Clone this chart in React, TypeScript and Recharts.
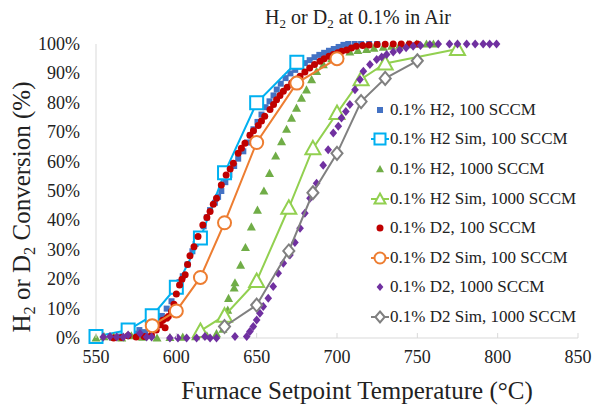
import React from "react";
import { ScatterChart, Scatter, XAxis, YAxis } from "recharts";

type Pair = [number, number];

// temperature (°C), conversion (%)
const h2Exp100: Pair[] = [
  [565, 0.5], [570, 1], [574, 1.5], [577, 2.7], [580.5, 2], [583, 3.5], [585.5, 4.4], [588.6, 5],
  [591, 7.5], [594, 10], [597, 12.5], [600, 17], [602, 19], [604, 21], [607, 25], [610, 29.5],
  [612, 32], [614.7, 34.5], [617, 38], [619, 41], [621, 43.5], [624, 46], [626, 48], [628, 50],
  [630.5, 53], [633, 55.5], [636, 58.5], [638.5, 61], [641.7, 63.5], [644, 66.5], [646, 69],
  [648, 71], [650.5, 73.5], [653, 76], [655.5, 78.5], [658, 80.5], [660.5, 82.5], [662.5, 84.5],
  [665, 86.5], [668, 88.4], [671, 90], [674, 91.2], [677, 92.3], [680, 93.5], [683, 94.5],
  [686, 95.5], [689, 96.3], [692, 97], [695, 97.7], [698, 98.3], [701, 99], [704, 99.7],
  [707, 100], [711, 100], [715, 100], [720, 100], [725, 100],
];

const h2Sim100: Pair[] = [
  [550, 0.5], [570, 2.7], [585, 7.6], [600, 17.3], [615, 34], [630, 56.2], [650, 80],
  [675, 93.8],
];

const h2Exp1000: Pair[] = [
  [550, 0], [555, 0.5], [561, 0.3], [566, 0], [572, 0.8], [579, 0.3], [588, 0], [596, 0.2],
  [604, 0.3], [612, 0.5], [619, 0.8], [625, 1.5], [629, 3], [632, 9.5], [632.5, 13.5], [636, 17],
  [636.5, 18.8], [640, 24.8], [643, 30.8], [646.7, 37.8], [650.5, 43.5], [654.5, 50], [658, 56],
  [661.8, 61.9], [665.5, 66.8], [668.6, 71], [671.7, 74.8], [674.8, 78.2], [677.9, 81.6],
  [681, 84.4], [684.2, 87.9], [687.3, 90.7], [691.5, 93], [696.7, 95], [701.8, 96.2], [708, 97.3],
  [713, 97.8], [718.4, 98.2], [723, 98.6], [728.8, 98.9], [734, 99.3], [739, 99.6], [744, 99.8],
  [749.5, 100], [755.7, 100], [760, 100],
];

const h2Sim1000: Pair[] = [
  [615, 2.4], [630, 7.6], [650, 19.4], [670, 44.3], [685, 64.5], [700, 76.5], [715, 88],
  [730, 93.4], [775, 98.3],
];

const d2Exp100: Pair[] = [
  [561, 0], [566, 0.2], [570, 0.8], [575, 0.3], [580, 0.5], [584.5, 1], [587.5, 2.7], [590, 4.5],
  [591.5, 6], [593, 3.5], [594, 6.7], [595, 7.3], [597, 9], [598.5, 11.5], [600, 15], [602, 18],
  [603.5, 20], [605.5, 21.5], [607, 25], [608.5, 28], [611, 31], [613.5, 34.5], [616.5, 38.4],
  [619, 41], [621, 43], [623, 45.5], [625, 47.5], [628, 52], [631, 55.4], [633.5, 57.5],
  [635.5, 59.4], [638.5, 62.8], [640.5, 64.5], [642.7, 66.2], [645.8, 69], [648, 70.5],
  [651, 72.3], [653, 73.8], [655, 75.4], [658.3, 77.7], [660.5, 79.4], [662.4, 81], [664.5, 82.5],
  [666.6, 83.9], [669, 85.3], [671.8, 86.7], [674.5, 88], [677, 89], [680, 90.5], [683, 91.8],
  [686, 93], [689.4, 94.1], [692, 95], [695, 95.8], [697.7, 96.4], [700.5, 97], [703, 97.5],
  [706, 98], [709, 98.6], [712, 99.2], [716, 99.5], [720, 99.7], [725, 99.8], [730, 99.9],
  [735, 100], [740, 100], [745, 100], [750, 100],
];

const d2Sim100: Pair[] = [
  [585, 4.2], [600, 9.2], [615, 20.6], [630, 39.2], [650, 66.5], [675, 86.7], [700, 95],
];

const d2Exp1000: Pair[] = [
  [554.5, 0.3], [558.7, 0.5], [562.9, 0.3], [567, 0.3], [570, 1], [577.4, 1.5], [581.5, 0.3],
  [584.6, 0.3], [596, 0], [601, 0], [606.4, 0], [612.6, 0], [617.8, 0.5], [621, 0], [625, 0],
  [636.5, 0.5], [643.8, 0.5], [645.8, 2.2], [647.9, 3.9], [650, 6.1], [652, 8.4], [654.1, 10.7],
  [657.2, 13.5], [660.3, 17.5], [663.4, 22], [666.6, 25.4], [670.7, 28.2], [673.8, 32.5],
  [677, 37.3], [680, 42.4], [683.2, 47.5], [687.3, 52.6], [691.4, 58.8], [694.5, 64],
  [697.7, 69.7], [700.8, 72], [702.8, 74.8], [705.5, 77], [708, 79.4], [711.2, 84.4],
  [714.3, 87.9], [716.4, 90.7], [720.5, 93], [724.7, 94.7], [727.8, 95.6], [730.9, 96.4],
  [735, 97.3], [739, 98], [743, 98.7], [747.4, 99.2], [752, 99.5], [757.8, 99.8], [763, 100],
  [770, 100], [775, 100], [780.7, 100], [786, 100], [791, 100], [795, 100], [799.3, 100],
];

const d2Sim1000: Pair[] = [
  [630, 3.9], [650, 11.2], [670, 29.6], [685, 49.4], [700, 62.8], [715, 80.4], [730, 88.3],
  [750, 94.3],
];

const xTicks = [550, 600, 650, 700, 750, 800, 850];
const yTicks = [0, 10, 20, 30, 40, 50, 60, 70, 80, 90, 100];

const FONT = "'Liberation Serif', 'Times New Roman', Times, serif";
const INK = "#222";
const BORDER = "#D9D9D9";

const toPts = (arr: Pair[]) => arr.map(([x, y]) => ({ x, y }));

type Mark = "square" | "circle" | "triangle" | "diamond";

function markPath(kind: Mark, cx: number, cy: number, s: number) {
  const h = s / 2;
  if (kind === "square") return `M${cx - h},${cy - h}h${s}v${s}h${-s}Z`;
  if (kind === "triangle") return `M${cx},${cy - h}L${cx + h},${cy + h * 0.8}L${cx - h},${cy + h * 0.8}Z`;
  if (kind === "diamond") return `M${cx},${cy - h}L${cx + h * 0.85},${cy}L${cx},${cy + h}L${cx - h * 0.85},${cy}Z`;
  return `M${cx - h},${cy}a${h},${h} 0 1,0 ${s},0a${h},${h} 0 1,0 ${-s},0`;
}

function Marker({ kind, cx, cy, size, color, hollow }: { kind: Mark; cx: number; cy: number; size: number; color: string; hollow?: boolean }) {
  return (
    <path
      d={markPath(kind, cx, cy, size)}
      fill={hollow ? "#fff" : color}
      stroke={hollow ? color : "none"}
      strokeWidth={hollow ? 2 : 0}
    />
  );
}

const shapeOf = (kind: Mark, size: number, color: string, hollow?: boolean) => (props: any) => (
  <Marker kind={kind} cx={props.cx} cy={props.cy} size={size} color={color} hollow={hollow} />
);

type SeriesDef = { name: string; data: Pair[]; kind: Mark; size: number; color: string; sim: boolean };

const series: SeriesDef[] = [
  { name: "0.1% H2, 100 SCCM", data: h2Exp100, kind: "square", size: 6, color: "#4472C4", sim: false },
  { name: "0.1% H2 Sim, 100 SCCM", data: h2Sim100, kind: "square", size: 13, color: "#00B0F0", sim: true },
  { name: "0.1% H2, 1000 SCCM", data: h2Exp1000, kind: "triangle", size: 9, color: "#70AD47", sim: false },
  { name: "0.1% H2 Sim, 1000 SCCM", data: h2Sim1000, kind: "triangle", size: 15, color: "#92D050", sim: true },
  { name: "0.1% D2, 100 SCCM", data: d2Exp100, kind: "circle", size: 7, color: "#C00000", sim: false },
  { name: "0.1% D2 Sim, 100 SCCM", data: d2Sim100, kind: "circle", size: 13, color: "#ED7D31", sim: true },
  { name: "0.1% D2, 1000 SCCM", data: d2Exp1000, kind: "diamond", size: 9, color: "#7030A0", sim: false },
  { name: "0.1% D2 Sim, 1000 SCCM", data: d2Sim1000, kind: "diamond", size: 13, color: "#808080", sim: true },
];

const XTick = (props: any) => {
  const { x, y, payload } = props;
  return (
    <g>
      <line x1={x} x2={x} y1={y} y2={y - 5} stroke={BORDER} />
      <text x={x} y={y + 25} textAnchor="middle" style={{ fontSize: 18, fontFamily: FONT, fill: INK }}>
        {payload.value}
      </text>
    </g>
  );
};

const YTick = (props: any) => {
  const { x, y, payload } = props;
  return (
    <text x={x} y={y + 6} textAnchor="end" style={{ fontSize: 18, fontFamily: FONT, fill: INK }}>
      {`${payload.value}%`}
    </text>
  );
};

const Sub = ({ children }: { children: React.ReactNode }) => (
  <span style={{ fontSize: "0.65em", position: "relative", top: "0.3em" }}>{children}</span>
);

export default function App() {
  return (
    <div style={{ position: "absolute", left: 0, top: 0, width: 593, height: 410, background: "#fff", fontFamily: FONT, color: INK }}>
      <ScatterChart width={593} height={410} margin={{ top: 44, right: 15, bottom: 42, left: 0 }}>
        <XAxis
          type="number"
          dataKey="x"
          domain={[550, 850]}
          ticks={xTicks}
          interval={0}
          height={30}
          tickSize={0}
          tickMargin={0}
          tickLine={false}
          axisLine={{ stroke: BORDER }}
          tick={<XTick />}
        />
        <XAxis xAxisId="top" orientation="top" type="number" domain={[550, 850]} height={0} tick={false} tickLine={false} axisLine={{ stroke: BORDER }} />
        <YAxis
          type="number"
          dataKey="y"
          domain={[0, 100]}
          ticks={yTicks}
          interval={0}
          width={96}
          tickSize={0}
          tickMargin={16}
          tickLine={false}
          axisLine={{ stroke: BORDER }}
          tick={<YTick />}
        />
        <YAxis yAxisId="right" orientation="right" type="number" domain={[0, 100]} width={0} tick={false} tickLine={false} axisLine={{ stroke: BORDER }} />
        {series.map((s) => (
          <Scatter
            key={s.name}
            name={s.name}
            data={toPts(s.data)}
            shape={shapeOf(s.kind, s.size, s.color, s.sim)}
            line={s.sim ? { stroke: s.color, strokeWidth: 2 } : false}
            lineType="joint"
            isAnimationActive={false}
          />
        ))}
      </ScatterChart>

      <div style={{ position: "absolute", left: 208, top: 5, width: 300, lineHeight: "24px", fontSize: 20, textAlign: "center" }}>
        H<Sub>2</Sub> or D<Sub>2</Sub> at 0.1% in Air
      </div>
      <div style={{ position: "absolute", left: 157, top: 377, width: 400, lineHeight: "28px", fontSize: 25, textAlign: "center" }}>
        Furnace Setpoint Temperature (°C)
      </div>
      <div
        style={{
          position: "absolute",
          left: 22 - 150,
          top: 207 - 15,
          width: 300,
          height: 30,
          lineHeight: "30px",
          fontSize: 25,
          textAlign: "center",
          transform: "rotate(-90deg)",
          whiteSpace: "nowrap",
        }}
      >
        H<Sub>2</Sub> or D<Sub>2</Sub> Conversion (%)
      </div>

      <div style={{ position: "absolute", left: 371, top: 95, fontSize: 17 }}>
        {series.map((s) => (
          <div key={s.name} style={{ display: "flex", alignItems: "center", height: 29.6, whiteSpace: "nowrap" }}>
            <svg width={18} height={18} style={{ marginRight: 1 }}>
              {s.sim && <line x1={0} x2={18} y1={9} y2={9} stroke={s.color} strokeWidth={2} />}
              <Marker kind={s.kind} cx={9} cy={9} size={s.sim ? 11 : Math.min(s.size, 8)} color={s.color} hollow={s.sim} />
            </svg>
            <span>{s.name}</span>
          </div>
        ))}
      </div>
    </div>
  );
}
